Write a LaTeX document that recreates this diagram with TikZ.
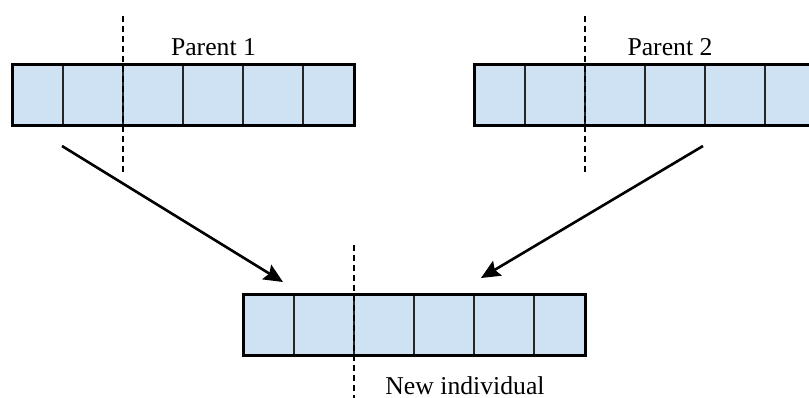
\documentclass[tikz,border=0pt]{standalone}
\usepackage{fontspec}
\setmainfont{Liberation Serif}
\usetikzlibrary{arrows.meta}
\definecolor{cellfill}{HTML}{CFE2F3}
\tikzset{
  bar/.style={draw=black, line width=3pt, fill=cellfill, minimum width=342pt, minimum height=61pt, inner sep=0pt, outer sep=0pt},
  divider/.style={draw=black!85, line width=1.6pt},
  cutline/.style={draw=black, line width=1.3pt, dash pattern=on 6pt off 4pt},
  parrow/.style={draw=black, line width=2.6pt, -{Stealth[length=19pt,width=17pt,inset=3pt]}},
  lbl/.style={font=\fontsize{25.7}{30}\selectfont, inner sep=0pt, anchor=base, text depth=0pt}
}
\begin{document}
\begin{tikzpicture}[x=1pt,y=-1pt]
\useasboundingbox (0,0) rectangle (809,398);
\clip (0,0) rectangle (809,398);
% bars
\node[bar] (p1) at (183,95.5) {};
\node[bar] (p2) at (645,95.5) {};
\node[bar] (ch) at (414,325) {};
\foreach \b in {p1,p2,ch}{
  \foreach \x in {51,111,171,231,291}{
    \draw[divider] ([xshift=\x pt]\b.north west) -- ([xshift=\x pt]\b.south west);
  }
  \draw[line width=3pt] (\b.north west) rectangle (\b.south east);
}
% labels
\node[lbl] (l1) at (213.5,55.7) {Parent 1};
\node[lbl] (l2) at (670,55.7) {Parent 2};
\node[lbl] (l3) at (465,394) {New individual};
% crossover cut lines
\coordinate (c1t) at (123,16);  \coordinate (c1b) at (123,175);
\coordinate (c2t) at (585,16);  \coordinate (c2b) at (585,172);
\coordinate (c3t) at (354,245); \coordinate (c3b) at (354,400);
\draw[cutline] (c1t) -- (c1b);
\draw[cutline] (c2t) -- (c2b);
\draw[cutline] (c3t) -- (c3b);
% arrows
\coordinate (a1s) at (62,146);  \coordinate (a1e) at (283,282);
\coordinate (a2s) at (703,146); \coordinate (a2e) at (481,278);
\draw[parrow] (a1s) -- (a1e);
\draw[parrow] (a2s) -- (a2e);
\end{tikzpicture}
\end{document}
